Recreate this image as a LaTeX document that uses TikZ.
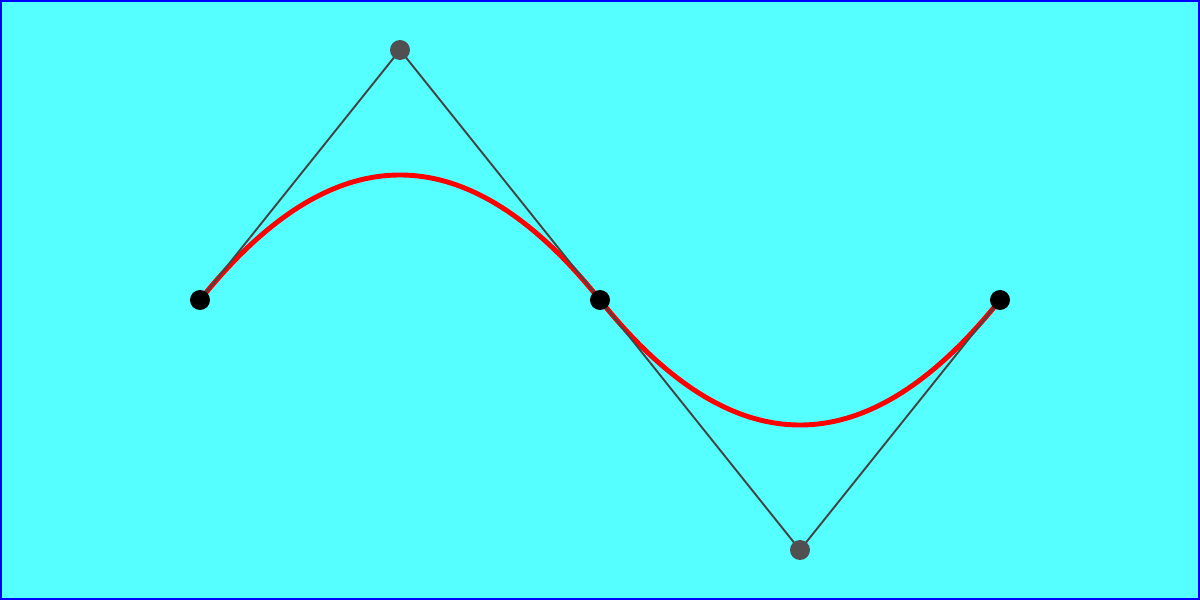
\documentclass[tikz,border=0pt]{standalone}
\usetikzlibrary{calc}
\definecolor{bgcyan}{HTML}{55FFFF}
\definecolor{ctrlgray}{HTML}{505050}
\definecolor{linegray}{HTML}{444444}
\begin{document}
\begin{tikzpicture}
		\useasboundingbox (0,0) rectangle (12,6);
		\fill[bgcyan] (0,0) rectangle (12,6);
		\draw[blue, line width=0.57pt] (0.01,0.01) rectangle (11.99,5.99);
		\coordinate (p0) at (2,3);
		\coordinate (c0) at (4,5.5);
		\coordinate (p1) at (6,3);
		\coordinate (c1) at (8,0.5);
		\coordinate (p2) at (10,3);
		\draw[red, line width=1.4pt] (p0) .. controls ($(p0)!2/3!(c0)$) and ($(p1)!2/3!(c0)$) .. (p1)
			.. controls ($(p1)!2/3!(c1)$) and ($(p2)!2/3!(c1)$) .. (p2);
		\draw[linegray, line width=0.55pt] (p0) -- (c0) -- (p1) -- (c1) -- (p2);
		\node[circle, inner sep=0pt, minimum size=0.2cm, fill=ctrlgray] (a) at (c0){};
		\node[circle, inner sep=0pt, minimum size=0.2cm, fill=ctrlgray] (b) at (c1){};
		\node[circle, inner sep=0pt, minimum size=0.2cm, fill=black] (s) at (p0){};
		\node[circle, inner sep=0pt, minimum size=0.2cm, fill=black] (m) at (p1){};
		\node[circle, inner sep=0pt, minimum size=0.2cm, fill=black] (e) at (p2){};
		\end{tikzpicture}
\end{document}
